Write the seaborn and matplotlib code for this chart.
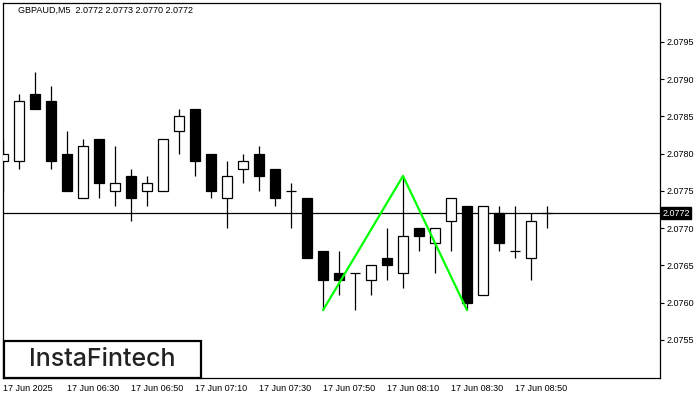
import matplotlib
matplotlib.use("Agg")
import matplotlib.pyplot as plt
import matplotlib.transforms as mtransforms
from matplotlib.patches import Rectangle
import pandas as pd
import seaborn as sns

# GBPAUD M5 candles
times = ["06:10", "06:15", "06:20", "06:25", "06:30", "06:35", "06:40", "06:45",
         "06:50", "06:55", "07:00", "07:05", "07:10", "07:15", "07:20", "07:25",
         "07:30", "07:35", "07:40", "07:45", "07:50", "07:55", "08:00", "08:05",
         "08:10", "08:15", "08:20", "08:25", "08:30", "08:35", "08:40", "08:45",
         "08:50", "08:55", "09:00"]
opens = [2.0779, 2.0779, 2.0788, 2.0787, 2.0780, 2.0774, 2.0782, 2.0775,
         2.0777, 2.0775, 2.0775, 2.0783, 2.0786, 2.0780, 2.0774, 2.0778,
         2.0780, 2.0778, 2.0775, 2.0774, 2.0767, 2.0764, 2.0764, 2.0763,
         2.0766, 2.0764, 2.0770, 2.0768, 2.0771, 2.0773, 2.0761, 2.0772,
         2.0767, 2.0766, 2.0772]
highs = [2.0782, 2.0788, 2.0791, 2.0789, 2.0783, 2.0782, 2.0782, 2.0781,
         2.0778, 2.0777, 2.0782, 2.0786, 2.0786, 2.0780, 2.0779, 2.0780,
         2.0781, 2.0778, 2.0776, 2.0774, 2.0767, 2.0767, 2.0764, 2.0765,
         2.0770, 2.0777, 2.0770, 2.0770, 2.0774, 2.0773, 2.0773, 2.0773,
         2.0773, 2.0772, 2.0773]
lows = [2.0775, 2.0778, 2.0786, 2.0778, 2.0775, 2.0774, 2.0774, 2.0773,
        2.0771, 2.0773, 2.0775, 2.0780, 2.0777, 2.0774, 2.0770, 2.0776,
        2.0775, 2.0773, 2.0770, 2.0766, 2.0759, 2.0761, 2.0759, 2.0761,
        2.0763, 2.0762, 2.0767, 2.0764, 2.0767, 2.0759, 2.0761, 2.0767,
        2.0766, 2.0763, 2.0770]
closes = [2.0780, 2.0787, 2.0786, 2.0779, 2.0775, 2.0781, 2.0776, 2.0776,
          2.0774, 2.0776, 2.0782, 2.0785, 2.0779, 2.0775, 2.0777, 2.0779,
          2.0777, 2.0774, 2.0775, 2.0766, 2.0763, 2.0763, 2.0764, 2.0765,
          2.0765, 2.0769, 2.0769, 2.0770, 2.0774, 2.0760, 2.0773, 2.0768,
          2.0767, 2.0771, 2.0772]

# double bottom pattern (candle index, price)
pattern_idx = [20, 25, 29]
pattern_price = [2.0759, 2.0777, 2.0759]

bid = 2.0772
ytick_vals = [2.0755, 2.0760, 2.0765, 2.0770, 2.0775, 2.0780, 2.0785, 2.0790, 2.0795]
xtick_idx = [0, 4, 8, 12, 16, 20, 24, 28, 32]
xtick_labels = ["17 Jun 2025", "17 Jun 06:30", "17 Jun 06:50", "17 Jun 07:10",
                "17 Jun 07:30", "17 Jun 07:50", "17 Jun 08:10", "17 Jun 08:30",
                "17 Jun 08:50"]

df = pd.DataFrame({"time": times, "open": opens, "high": highs,
                   "low": lows, "close": closes})
df["i"] = range(len(df))

sns.set_style("white")
plt.rcParams["font.family"] = ["Liberation Sans", "DejaVu Sans"]

fig = plt.figure(figsize=(7, 4), dpi=100)
ax = fig.add_axes([3 / 700, 22 / 400, 657 / 700, 375 / 400])

# bid line
ax.axhline(bid, color="black", lw=0.9, zorder=1)

# wicks
ax.vlines(df["i"], df["low"], df["high"], color="black", lw=0.9, zorder=2)

# bodies
w = 0.62
for _, r in df.iterrows():
    if abs(r["close"] - r["open"]) < 1e-9:
        ax.hlines(r["open"], r["i"] - w / 2, r["i"] + w / 2, color="black", lw=0.9, zorder=3)
        continue
    bull = r["close"] > r["open"]
    ax.bar(r["i"], r["close"] - r["open"], bottom=r["open"], width=w,
           color="white" if bull else "black", edgecolor="black", lw=0.9, zorder=3)

# pattern line
sns.lineplot(x=pattern_idx, y=pattern_price, color="#00ff00", lw=1.6, ax=ax, zorder=4)

ax.set_xlim(0, 41.06)
ax.set_ylim(2.07499, 2.08002)

ax.yaxis.tick_right()
ax.set_yticks(ytick_vals)
ax.set_yticklabels([f"{v:.4f}" for v in ytick_vals])
ax.set_xticks(xtick_idx)
ax.set_xticklabels(xtick_labels)
for lbl in ax.get_xticklabels():
    lbl.set_horizontalalignment("left")
ax.tick_params(axis="both", direction="out", length=3, width=0.8, labelsize=6.5,
               colors="black", pad=2)
ax.tick_params(axis="x", pad=1.5)
ax.set_xlabel("")
ax.set_ylabel("")
for s in ax.spines.values():
    s.set_color("black")
    s.set_linewidth(0.9)

# current price tag
trans = mtransforms.blended_transform_factory(ax.transAxes, ax.transData)
ax.text(1.004, bid, f"{bid:.4f}", transform=trans, color="white", fontsize=6.5,
        va="center", ha="left",
        bbox=dict(boxstyle="square,pad=0.15", fc="black", ec="black"), zorder=10)

# header
fig.text(18 / 700, 1 - 10 / 400, "GBPAUD,M5  2.0772 2.0773 2.0770 2.0772",
         fontsize=6.5, va="center", ha="left", color="black")

# logo
fig.patches.append(Rectangle((4 / 700, 1 - 378 / 400), 197 / 700, 37 / 400,
                             transform=fig.transFigure, fc="white", ec="black",
                             lw=1.6, zorder=20))
fig.text(102 / 700, 1 - 360 / 400, "InstaFintech", fontsize=18, family="Inter",
         fontweight="medium", color="#222222", ha="center", va="center", zorder=21)

fig.savefig("out.png", dpi=100)
